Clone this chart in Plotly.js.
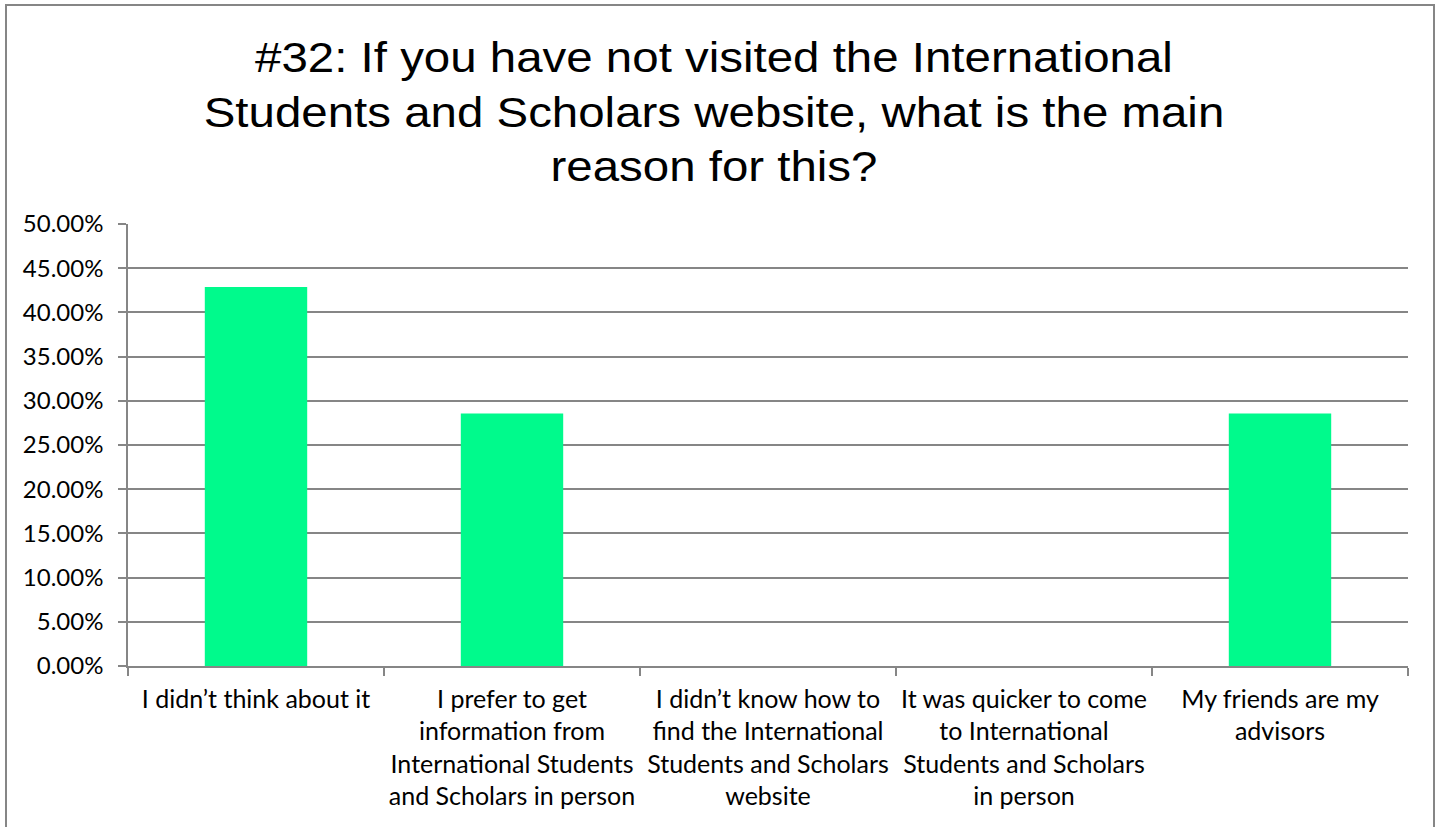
<!DOCTYPE html>
<html>
<head>
<meta charset="utf-8">
<script src="https://cdn.plot.ly/plotly-3.0.1.min.js"></script>
<style>
  html, body { margin: 0; padding: 0; background: #fff; }
  #chart { width: 1441px; height: 827px; }
</style>
</head>
<body>
<div id="chart"></div>
<script>
const categories = [
  "I didn\u2019t think about it",
  "I prefer to get<br>information from<br>International Students<br>and Scholars in person",
  "I didn\u2019t know how to<br>find the International<br>Students and Scholars<br>website",
  "It was quicker to come<br>to International<br>Students and Scholars<br>in person",
  "My friends are my<br>advisors"
];
const values = [0.4286, 0.2857, 0, 0, 0.2857];
const yTickValues = [0, 0.05, 0.10, 0.15, 0.20, 0.25, 0.30, 0.35, 0.40, 0.45, 0.50];
const titleText = "#32: If you have not visited the International<br>Students and Scholars website, what is the main<br>reason for this?";

const W = 1441, H = 827;
const mL = 128, mR = 33, mT = 224, mB = 161;
const pw = W - mL - mR, ph = H - mT - mB;
// border box in pixels -> paper coords
const bx0 = (6 - mL) / pw, bx1 = (1434 - mL) / pw;
const byTop = 1 + (mT - 5) / ph, byBot = (H - mB - 850) / ph;

const gridColor = "#868686";
const labelFont = { family: "Lato, 'Open Sans', sans-serif", size: 25, color: "#000" };
const yLabelFont = { family: "Lato, 'Open Sans', sans-serif", size: 24, color: "#000" };

const trace = {
  type: "bar",
  x: categories,
  y: values,
  width: 0.4,
  marker: { color: "rgb(0,250,140)", line: { width: 0 } },
  hoverinfo: "x+y"
};

const layout = {
  width: W, height: H,
  margin: { l: mL, r: mR, t: mT, b: mB, pad: 0 },
  paper_bgcolor: "#fff",
  plot_bgcolor: "#fff",
  showlegend: false,
  title: {
    text: titleText,
    font: { family: "'Liberation Sans', Arial, sans-serif", size: 42, color: "#000" },
    x: 714 / W, xref: "container", xanchor: "center",
    y: 1 - 72 / H, yref: "container", yanchor: "middle"
  },
  xaxis: {
    type: "category",
    showgrid: false,
    showline: true, linecolor: gridColor, linewidth: 1.5,
    ticks: "outside", tickson: "boundaries", ticklen: 8, tickcolor: gridColor, tickwidth: 1.5,
    tickfont: labelFont,
    ticklabelstandoff: 10,
    automargin: false,
    tickangle: 0
  },
  yaxis: {
    range: [0, 0.5],
    tickvals: yTickValues,
    tickformat: ".2%",
    showgrid: true, gridcolor: gridColor, gridwidth: 1.5,
    zeroline: false,
    showline: true, linecolor: gridColor, linewidth: 1.5,
    ticks: "outside", ticklen: 8, tickcolor: gridColor, tickwidth: 1.5,
    tickfont: yLabelFont,
    ticklabelstandoff: 10,
    automargin: false,
    fixedrange: true
  },
  shapes: [
    {
      type: "rect", xref: "paper", yref: "paper",
      x0: bx0, x1: bx1, y0: byBot, y1: byTop,
      line: { color: "#868686", width: 2 }, fillcolor: "rgba(0,0,0,0)", layer: "below"
    }
  ]
};

Plotly.newPlot("chart", [trace], layout, { displayModeBar: false, responsive: false }).then(function (gd) {
  // the reference title is rendered horizontally wider than the font's natural width
  const t = gd.querySelector(".gtitle");
  if (t) {
    const cx = 714;
    t.setAttribute("transform", "translate(" + cx + ",0) scale(1.13,1) translate(" + (-cx) + ",0)");
  }
});
</script>
</body>
</html>
